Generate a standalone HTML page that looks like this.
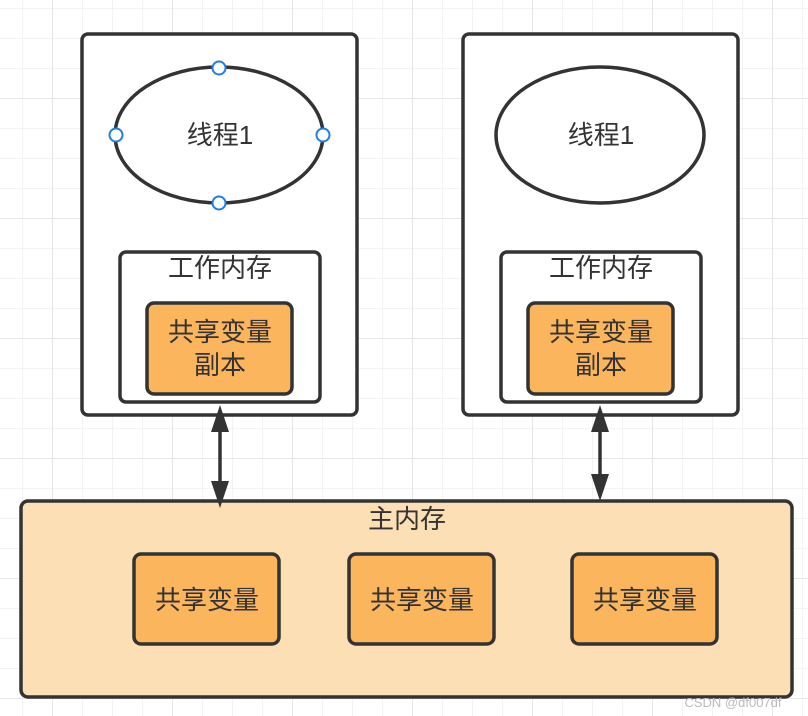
<!DOCTYPE html>
<html><head><meta charset="utf-8"><style>
html,body{margin:0;padding:0;background:#fff}
svg{display:block}
text{font-family:"Liberation Sans","Noto Sans CJK SC",sans-serif;fill:#333;font-size:26px;text-anchor:middle}
</style></head><body>
<svg width="808" height="716" viewBox="0 0 808 716" xmlns="http://www.w3.org/2000/svg">
<defs>
<pattern id="g" x="22" y="8" width="30" height="30" patternUnits="userSpaceOnUse">
<path d="M0 0V30M0 0H30" stroke="#efefef" stroke-width="1.5" fill="none"/>
</pattern>
<pattern id="G" x="52" y="98" width="120" height="120" patternUnits="userSpaceOnUse">
<path d="M0 0V120M0 0H120" stroke="#e6e6e6" stroke-width="2" fill="none"/>
</pattern>
</defs>
<rect width="808" height="716" fill="url(#g)"/>
<rect width="808" height="716" fill="url(#G)"/>
<g stroke="#333" stroke-width="3.5">
<rect x="82" y="34" width="275" height="381" rx="6" fill="#fff"/>
<rect x="463" y="34" width="275" height="381" rx="6" fill="#fff"/>
<ellipse cx="219" cy="135" rx="104" ry="68" fill="#fff"/>
<ellipse cx="600" cy="135" rx="104" ry="68" fill="#fff"/>
<rect x="120" y="252" width="200" height="150" rx="6" fill="#fff"/>
<rect x="501" y="252" width="200" height="150" rx="6" fill="#fff"/>
<rect x="147" y="303" width="145" height="91" rx="7" fill="#fbb55c"/>
<rect x="528" y="303" width="145" height="91" rx="7" fill="#fbb55c"/>
<rect x="21" y="501" width="771" height="196" rx="7" fill="#fddfb5"/>
<rect x="134" y="554" width="145" height="90" rx="7" fill="#fbb55c"/>
<rect x="349" y="554" width="145" height="90" rx="7" fill="#fbb55c"/>
<rect x="572" y="554" width="145" height="90" rx="7" fill="#fbb55c"/>
<line x1="220" y1="425" x2="220" y2="485"/>
<line x1="600" y1="425" x2="600" y2="480"/>
</g>
<g fill="#333">
<polygon points="220,405 211,432 229,432"/>
<polygon points="220,508 211,481 229,481"/>
<polygon points="600,405 591,432 609,432"/>
<polygon points="600,501 591,474 609,474"/>
</g>
<g fill="#fff" stroke="#1e7ee6" stroke-width="2">
<circle cx="219" cy="68" r="6.5"/><circle cx="219" cy="203" r="6.5"/>
<circle cx="116" cy="135" r="6.5"/><circle cx="323" cy="135" r="6.5"/>
</g>
<text x="220" y="144">线程1</text>
<text x="601" y="144">线程1</text>
<text x="220" y="277">工作内存</text>
<text x="601" y="277">工作内存</text>
<text x="220" y="341">共享变量</text>
<text x="220" y="374">副本</text>
<text x="601" y="341">共享变量</text>
<text x="601" y="374">副本</text>
<text x="407" y="528">主内存</text>
<text x="207" y="609">共享变量</text>
<text x="422" y="609">共享变量</text>
<text x="645" y="609">共享变量</text>
<text x="733" y="707" style="font-size:13px;fill:#bbb">CSDN @df007df</text>
</svg>
</body></html>
